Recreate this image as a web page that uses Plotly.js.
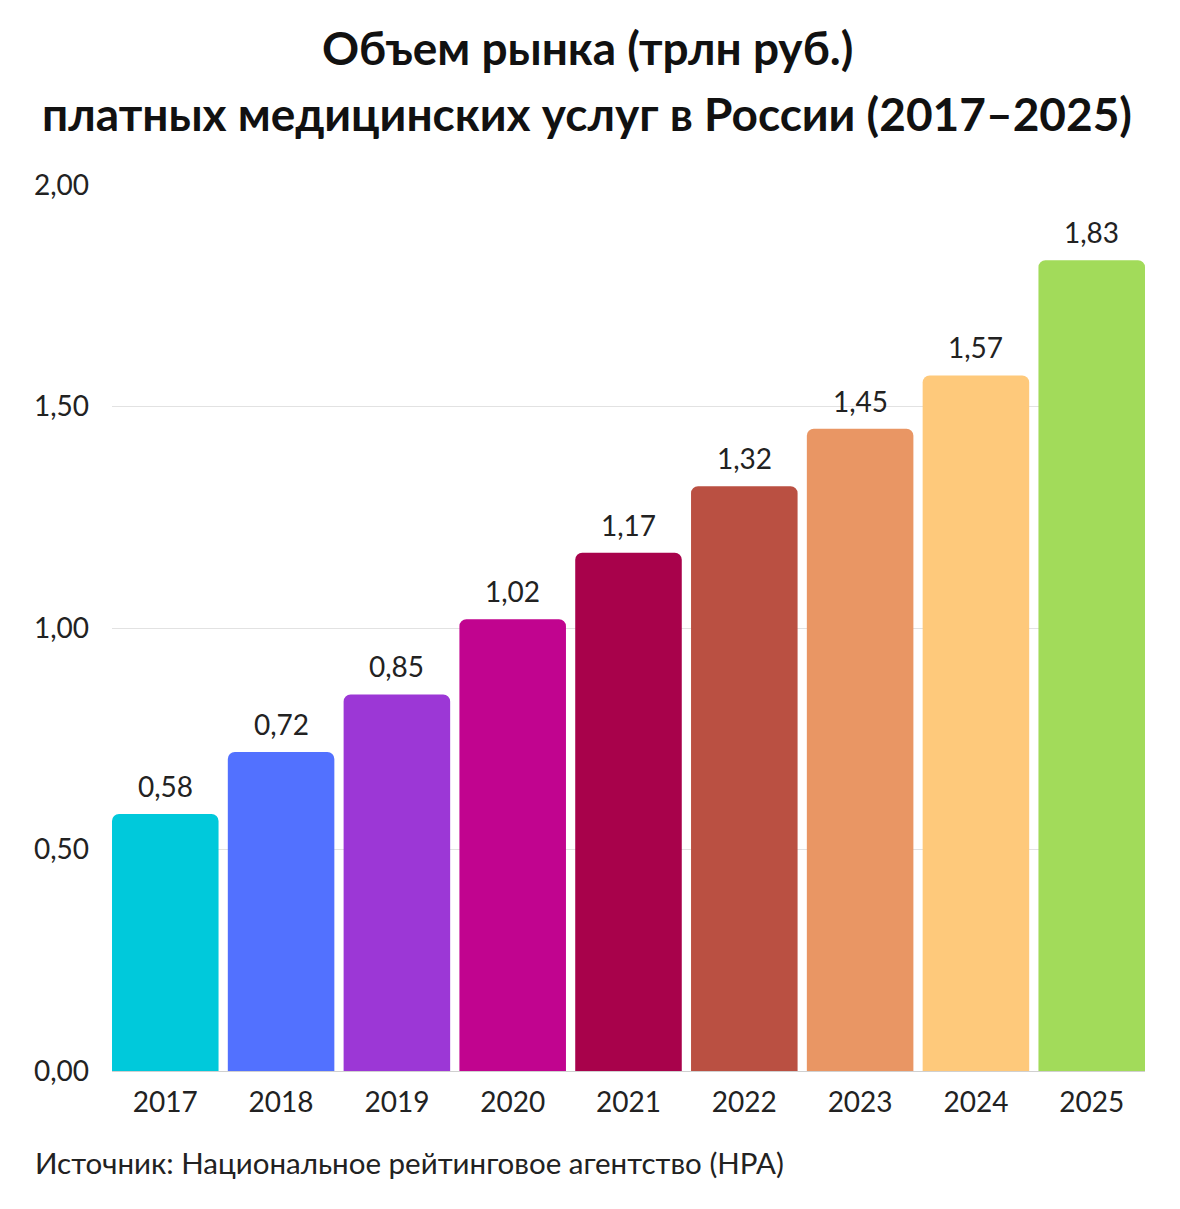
<!DOCTYPE html>
<html><head><meta charset="utf-8">
<script src="https://cdn.plot.ly/plotly-3.0.1.min.js"></script>
<style>html,body{margin:0;padding:0;background:#fff}#chart{width:1180px;height:1209px}</style>
</head><body><div id="chart"></div>
<script>
const years = ['2017','2018','2019','2020','2021','2022','2023','2024','2025'];
const values = [0.58,0.72,0.85,1.02,1.17,1.32,1.45,1.57,1.83];
const barColors = ['#00C9DB','#5271FF','#9C37D6','#C1048F','#A8024B','#BA5042','#E99664','#FEC97B','#A2DB5A'];
const yTicks = [0,0.5,1,1.5,2];
const titleLine1 = 'Объем рынка (трлн руб.)';
const titleLine2 = 'платных медицинских услуг в России (2017–2025)';
const sourceText = 'Источник: Национальное рейтинговое агентство (НРА)';

const FONT = 'Lato, "Noto Sans", sans-serif';
const plotTop = 185, plotBottom = 1071, plotH = plotBottom - plotTop;
const py = p => (plotBottom - p) / plotH;
const fmt = v => v.toFixed(2).replace('.', ',');

// value labels placed on the category axis by index
const valueLabels = years.map((yr, i) => ({
  text: fmt(values[i]), x: i, y: values[i], xref: 'x', yref: 'y',
  xanchor: 'center', yanchor: 'bottom', yshift: 9, showarrow: false,
  font: {family: FONT, size: 28, color: '#222'}
}));

Plotly.newPlot('chart', [{
  type: 'bar',
  x: years,
  y: values,
  marker: {color: barColors, cornerradius: 7, line: {width: 0}},
  hoverinfo: 'skip'
}], {
  width: 1180, height: 1209,
  margin: {l: 112, r: 35, t: plotTop, b: 1209 - plotBottom, pad: 0},
  paper_bgcolor: '#fff', plot_bgcolor: '#fff',
  separators: ', ',
  bargap: 0.08,
  showlegend: false,
  font: {family: FONT, color: '#222'},
  xaxis: {
    type: 'category', range: [-0.46, 8.46], showgrid: false, zeroline: false, showline: false,
    ticks: '', tickfont: {family: FONT, size: 28, color: '#222'},
    ticklabelstandoff: 12
  },
  yaxis: {
    range: [0, 2], tickvals: yTicks, tickformat: '.2f',
    showgrid: true, gridcolor: '#e2e2e2', gridwidth: 1,
    zeroline: true, zerolinecolor: '#d0d0d0', zerolinewidth: 1,
    showline: false, ticks: '',
    tickfont: {family: FONT, size: 28, color: '#222'},
    ticklabelstandoff: 22
  },
  annotations: valueLabels.concat([
    {text: '<b>' + titleLine1 + '</b>', xref: 'paper', yref: 'paper', x: 0.460, y: py(47),
     xanchor: 'center', yanchor: 'middle', showarrow: false,
     font: {family: FONT, size: 46, color: '#111'}},
    {text: '<b>' + titleLine2 + '</b>', xref: 'paper', yref: 'paper', x: 0.460, y: py(113),
     xanchor: 'center', yanchor: 'middle', showarrow: false,
     font: {family: FONT, size: 46, color: '#111'}},
    {text: sourceText, xref: 'paper', yref: 'paper', x: (33 - 112) / (1180 - 112 - 35), y: py(1162),
     xanchor: 'left', yanchor: 'middle', showarrow: false,
     font: {family: FONT, size: 29.5, color: '#222'}}
  ])
}, {displayModeBar: false, staticPlot: true});
</script></body></html>
